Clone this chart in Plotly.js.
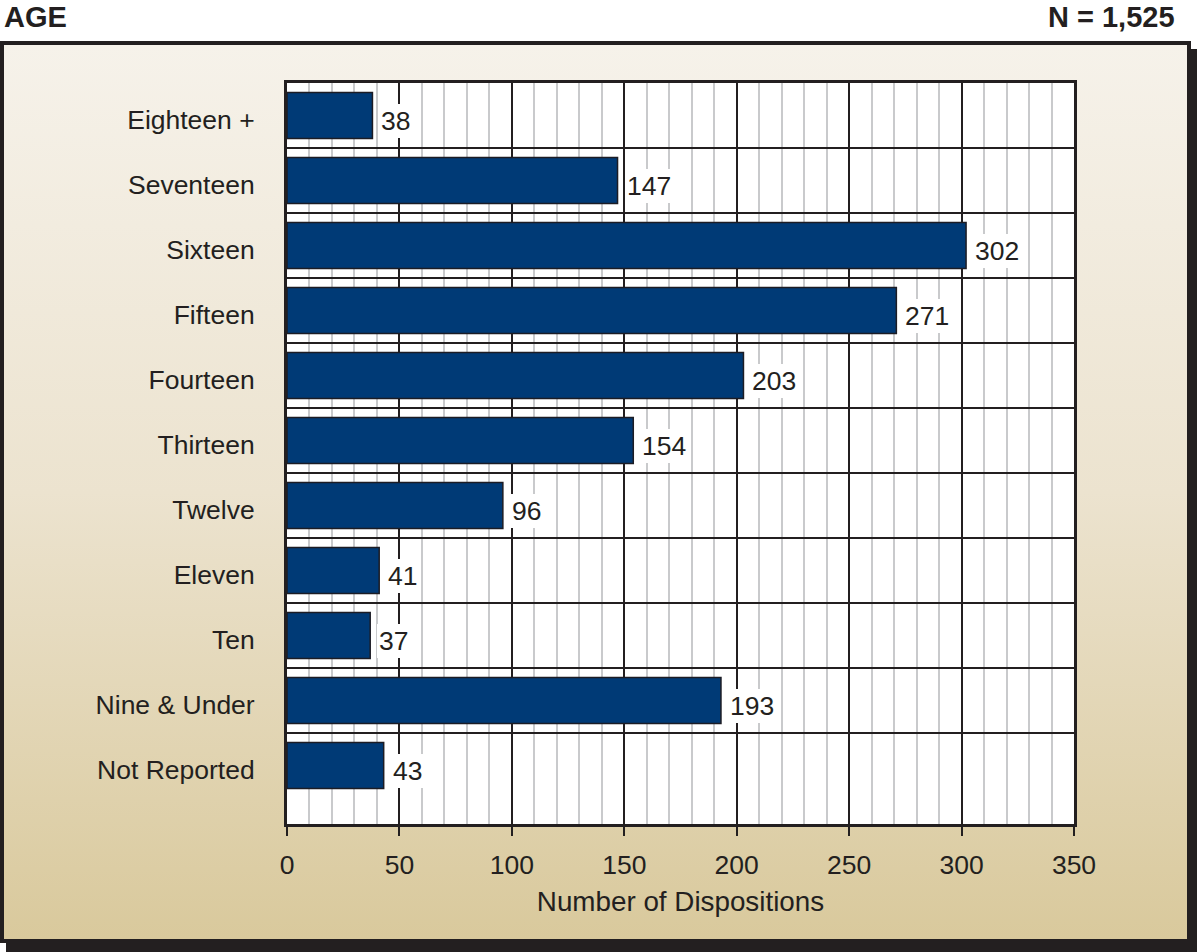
<!DOCTYPE html>
<html>
<head>
<meta charset="utf-8">
<script src="https://cdn.plot.ly/plotly-3.0.1.min.js"></script>
<style>
  html, body { margin: 0; padding: 0; background: #ffffff; width: 1197px; height: 952px; overflow: hidden; }
  #shadow { position: absolute; left: 6px; top: 49px; width: 1191px; height: 903px; background: #231f20; }
  #box { position: absolute; left: 0px; top: 41px; width: 1183px; height: 894px; border: 4px solid #231f20;
         background: linear-gradient(to bottom, #f6f2ea 0%, #ece3cf 50%, #d9c99c 100%); }
  #chart { position: absolute; left: 0; top: 0; width: 1197px; height: 952px; }
</style>
</head>
<body>
<div id="shadow"></div>
<div id="box"></div>
<div id="chart"></div>
<script>
// Data (top to bottom as shown)
const categories = ["Eighteen +", "Seventeen", "Sixteen", "Fifteen", "Fourteen", "Thirteen", "Twelve", "Eleven", "Ten", "Nine & Under", "Not Reported"];
const dispositions = [38, 147, 302, 271, 203, 154, 96, 41, 37, 193, 43];
const xTicks = [0, 50, 100, 150, 200, 250, 300, 350];
const chartTitle = "AGE";
const totalLabel = "N = 1,525";
const xTitle = "Number of Dispositions";

const FONT = "Liberation Sans, Arial, Helvetica, sans-serif";
const DARK = "#231f20";

const trace = {
  type: "bar",
  orientation: "h",
  x: dispositions,
  y: categories,
  marker: { color: "#003a76", line: { color: "#1c1c24", width: 1.5 } },
  hoverinfo: "none"
};

const valueLabels = dispositions.map((v, i) => ({
  x: v, y: categories[i], xref: "x", yref: "y",
  text: String(v), showarrow: false,
  xanchor: "left", yanchor: "middle",
  xshift: 7, yshift: -5,
  bgcolor: "#ffffff", borderpad: 2, borderwidth: 0,
  font: { family: FONT, size: 26.5, color: DARK }
}));

const layout = {
  width: 1197, height: 952,
  margin: { l: 287, r: 123, t: 83, b: 128 },
  paper_bgcolor: "rgba(0,0,0,0)",
  plot_bgcolor: "#ffffff",
  showlegend: false,
  bargap: 0.29,
  font: { family: FONT, size: 26, color: DARK },
  title: {
    text: chartTitle, x: 4 / 1197, xanchor: "left", xref: "container",
    y: 1 - 17 / 952, yanchor: "middle", yref: "container",
    font: { family: FONT, size: 29, color: DARK, weight: "bold" }
  },
  xaxis: {
    range: [0, 350],
    tickvals: xTicks,
    ticktext: xTicks.map(String),
    ticks: "outside", ticklen: 9, tickwidth: 2, tickcolor: DARK,
    ticklabelstandoff: 6,
    tickfont: { family: FONT, size: 26.5, color: DARK },
    showgrid: true, gridcolor: DARK, gridwidth: 2,
    minor: { dtick: 10, showgrid: true, gridcolor: "#c9cacc", gridwidth: 2, ticks: "" },
    zeroline: false,
    showline: true, linecolor: DARK, linewidth: 3, mirror: true,
    title: { text: xTitle, standoff: 13, font: { family: FONT, size: 27.8, color: DARK } },
    fixedrange: true
  },
  yaxis: {
    type: "category",
    categoryorder: "array",
    categoryarray: categories,
    autorange: false,
    range: [categories.length - 1 + 0.9, -0.5],
    tickson: "boundaries",
    ticks: "",
    ticklabelstandoff: 24,
    ticklabelshift: -4,
    tickfont: { family: FONT, size: 26.5, color: DARK },
    showgrid: true, gridcolor: DARK, gridwidth: 2,
    zeroline: false,
    showline: true, linecolor: DARK, linewidth: 3, mirror: true,
    fixedrange: true
  },
  annotations: valueLabels.concat([{
    text: totalLabel, xref: "paper", yref: "paper",
    x: (1177 - 287) / 787, y: 1 + (83 - 17) / 741,
    xanchor: "right", yanchor: "middle", showarrow: false,
    font: { family: FONT, size: 29, color: DARK, weight: "bold" }
  }])
};

Plotly.newPlot("chart", [trace], layout, { displayModeBar: false, staticPlot: true });
</script>
</body>
</html>
